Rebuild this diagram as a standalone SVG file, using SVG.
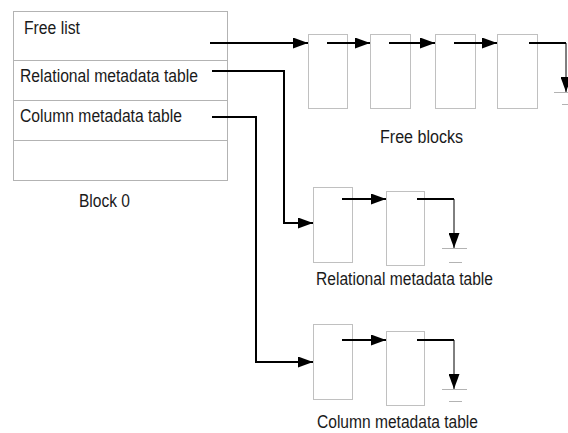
<svg xmlns="http://www.w3.org/2000/svg" width="568" height="433" viewBox="0 0 568 433">
<style>
.box{fill:#fff;stroke:#b3b3b3;stroke-width:1}
.blk{fill:#fff;stroke:#c0c0c0;stroke-width:1}
.t{font-family:"Liberation Sans",Arial,sans-serif;font-size:17.5px;fill:#1a1a1a}
.c{fill:none;stroke:#000;stroke-width:2}
.thin{fill:none;stroke:#000;stroke-width:1}
.g{stroke:#b3b3b3;stroke-width:1}
</style>
<defs>
<marker id="ah" markerWidth="15" markerHeight="11" refX="15" refY="5.5" orient="auto" markerUnits="userSpaceOnUse">
<path d="M0,0 L15,5.5 L0,11 Z" fill="#000"/>
</marker>
</defs>
<rect width="568" height="433" fill="#fff"/>
<g id="block0">
<rect class="box" x="13.5" y="11.5" width="214" height="169"/>
<line class="box" x1="13.5" y1="60.5" x2="227.5" y2="60.5"/>
<line class="box" x1="13.5" y1="100.5" x2="227.5" y2="100.5"/>
<line class="box" x1="13.5" y1="140.5" x2="227.5" y2="140.5"/>
<text class="t" x="24" y="34" textLength="56" lengthAdjust="spacingAndGlyphs">Free list</text>
<text class="t" x="20" y="82" textLength="178" lengthAdjust="spacingAndGlyphs">Relational metadata table</text>
<text class="t" x="20" y="122" textLength="162" lengthAdjust="spacingAndGlyphs">Column metadata table</text>
<text class="t" x="79" y="207" textLength="51" lengthAdjust="spacingAndGlyphs">Block 0</text>
</g>
<g id="freeblocks">
<rect class="blk" x="308.5" y="34.5" width="39" height="74"/>
<rect class="blk" x="370.5" y="34.5" width="40" height="74"/>
<rect class="blk" x="435.5" y="34.5" width="40" height="74"/>
<rect class="blk" x="497.5" y="34.5" width="40" height="74"/>
<line class="g" x1="554" y1="92.5" x2="568" y2="92.5"/>
<line class="g" x1="562" y1="104.5" x2="568" y2="104.5"/>
<text class="t" x="380" y="143" textLength="83" lengthAdjust="spacingAndGlyphs">Free blocks</text>
</g>
<g id="relational">
<rect class="blk" x="313.5" y="187.5" width="39" height="75"/>
<rect class="blk" x="386.5" y="191.5" width="38" height="74"/>
<line class="g" x1="442" y1="248.5" x2="467" y2="248.5"/>
<line class="g" x1="449" y1="262.5" x2="462" y2="262.5"/>
<text class="t" x="316" y="285" textLength="177" lengthAdjust="spacingAndGlyphs">Relational metadata table</text>
</g>
<g id="column">
<rect class="blk" x="313.5" y="324.5" width="39" height="75"/>
<rect class="blk" x="386.5" y="331.5" width="38" height="74"/>
<line class="g" x1="442" y1="389.5" x2="467" y2="389.5"/>
<line class="g" x1="449" y1="401.5" x2="462" y2="401.5"/>
<text class="t" x="317" y="428" textLength="161" lengthAdjust="spacingAndGlyphs">Column metadata table</text>
</g>
<g id="connectors">
<line class="c" x1="210" y1="43" x2="308" y2="43" marker-end="url(#ah)"/>
<line class="c" x1="327" y1="43" x2="370" y2="43" marker-end="url(#ah)"/>
<line class="c" x1="389" y1="43" x2="435" y2="43" marker-end="url(#ah)"/>
<line class="c" x1="454" y1="43" x2="497" y2="43" marker-end="url(#ah)"/>
<line class="c" x1="529" y1="43" x2="566" y2="43"/>
<line class="thin" x1="566" y1="43" x2="566" y2="92" marker-end="url(#ah)"/>
<polyline class="c" points="212,71 284,71 284,223 313,223" marker-end="url(#ah)"/>
<polyline class="c" points="212,117 256,117 256,362 313,362" marker-end="url(#ah)"/>
<line class="c" x1="342" y1="199" x2="386" y2="199" marker-end="url(#ah)"/>
<line class="c" x1="417" y1="199" x2="454" y2="199"/>
<line class="thin" x1="454" y1="199" x2="454" y2="248" marker-end="url(#ah)"/>
<line class="c" x1="342" y1="340" x2="386" y2="340" marker-end="url(#ah)"/>
<line class="c" x1="417" y1="340" x2="454" y2="340"/>
<line class="thin" x1="454" y1="340" x2="454" y2="389" marker-end="url(#ah)"/>
</g>
</svg>
